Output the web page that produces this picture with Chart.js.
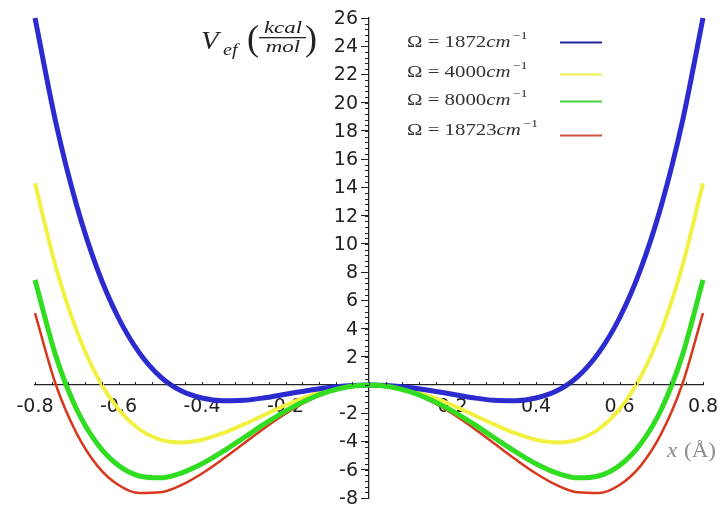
<!DOCTYPE html>
<html>
<head>
<meta charset="utf-8">
<script src="https://cdn.jsdelivr.net/npm/chart.js@4.4.0/dist/chart.umd.min.js"></script>
<style>
  html, body { margin: 0; padding: 0; background: #fff; }
  #wrap { width: 724px; height: 508px; }
</style>
</head>
<body>
<div id="wrap"><canvas id="myChart"></canvas></div>
<script>
// x positions (Å) and effective potential (kcal/mol)
const xs = [-0.8, -0.75, -0.7, -0.65, -0.6, -0.55, -0.5, -0.45, -0.4, -0.35, -0.3, -0.25, -0.2, -0.15, -0.1, -0.05, 0,
            0.05, 0.1, 0.15, 0.2, 0.25, 0.3, 0.35, 0.4, 0.45, 0.5, 0.55, 0.6, 0.65, 0.7, 0.75, 0.8];
const omegas = [1872, 4000, 8000, 18723];
const vBlue = [26.0, 18.58, 12.70, 8.16, 4.75, 2.28, 0.60, -0.41, -0.92, -1.11, -1.08, -0.90, -0.65, -0.40, -0.19, -0.05, 0,
               -0.05, -0.19, -0.40, -0.65, -0.90, -1.08, -1.11, -0.92, -0.41, 0.60, 2.28, 4.75, 8.16, 12.70, 18.58, 26.0];
const vYellow = [14.3, 8.36, 3.84, 0.54, -1.72, -3.13, -3.86, -4.06, -3.87, -3.41, -2.79, -2.10, -1.43, -0.84, -0.39, -0.10, 0,
                 -0.10, -0.39, -0.84, -1.43, -2.10, -2.79, -3.41, -3.87, -4.06, -3.86, -3.13, -1.72, 0.54, 3.84, 8.36, 14.3];
const vGreen = [7.45, 2.05, -1.73, -4.19, -5.70, -6.44, -6.57, -6.23, -5.57, -4.70, -3.73, -2.75, -1.85, -1.08, -0.49, -0.12, 0,
                -0.12, -0.49, -1.08, -1.85, -2.75, -3.73, -4.70, -5.57, -6.23, -6.57, -6.44, -5.70, -4.19, -1.73, 2.05, 7.45];
const vRed = [5.10, 0.02, -3.44, -5.74, -7.08, -7.65, -7.60, -7.09, -6.26, -5.24, -4.14, -3.04, -2.03, -1.18, -0.54, -0.14, 0,
              -0.14, -0.54, -1.18, -2.03, -3.04, -4.14, -5.24, -6.26, -7.09, -7.60, -7.65, -7.08, -5.74, -3.44, 0.02, 5.10];

const xTickLabels = [-0.8, -0.6, -0.4, -0.2, 0.2, 0.4, 0.6, 0.8];
const yTickLabels = [-8, -6, -4, -2, 2, 4, 6, 8, 10, 12, 14, 16, 18, 20, 22, 24, 26];

const pts = (ys) => xs.map((x, i) => ({ x: x, y: ys[i] }));

// text squeezed wider, like the original bitmap
function wideText(ctx, str, x, y, sx) {
  ctx.save();
  ctx.translate(x, y);
  ctx.scale(sx, 1);
  ctx.fillText(str, 0, 0);
  ctx.restore();
  return ctx.measureText(str).width * sx;
}

// minor ticks, y labels, axis titles, legend (Maple style)
const decorations = {
  id: "decorations",
  afterDraw(chart) {
    const ctx = chart.ctx;
    const sx = chart.scales.x, sy = chart.scales.y;
    const x0 = sx.getPixelForValue(0), y0 = sy.getPixelForValue(0);
    ctx.save();
    ctx.strokeStyle = "#222";
    ctx.lineWidth = 1;
    ctx.beginPath();
    for (let v = -0.8; v <= 0.8001; v += 0.04) {
      const px = Math.round(sx.getPixelForValue(v)) + 0.5;
      ctx.moveTo(px, y0);
      ctx.lineTo(px, y0 - 3);
    }
    for (let v = -8; v <= 26.001; v += 0.4) {
      const py = Math.round(sy.getPixelForValue(v)) + 0.5;
      ctx.moveTo(x0, py);
      ctx.lineTo(x0 - 4, py);
    }
    ctx.stroke();

    // y tick labels, left of the centred axis
    ctx.fillStyle = "#222";
    ctx.font = "19px 'DejaVu Sans'";
    ctx.textAlign = "right";
    ctx.textBaseline = "middle";
    yTickLabels.forEach((v) => ctx.fillText(String(v), x0 - 11, sy.getPixelForValue(v) + 1));

    // y title  V_ef (kcal/mol)
    ctx.textBaseline = "alphabetic";
    ctx.textAlign = "left";
    ctx.font = "italic 25px 'Liberation Serif'";
    wideText(ctx, "V", 201, 49, 1.15);
    ctx.font = "italic 16px 'Liberation Serif'";
    wideText(ctx, "ef", 223, 55, 1.25);
    ctx.font = "36px 'Liberation Serif'";
    wideText(ctx, "(", 247, 50, 1);
    wideText(ctx, ")", 305, 50, 1);
    ctx.font = "italic 17px 'Liberation Serif'";
    const kw = ctx.measureText("kcal").width * 1.35;
    wideText(ctx, "kcal", 283 - kw / 2, 33, 1.35);
    const mw = ctx.measureText("mol").width * 1.35;
    wideText(ctx, "mol", 283 - mw / 2, 52, 1.35);
    ctx.fillRect(259, 37, 47, 1.3);

    // x title  x (Å)
    ctx.fillStyle = "#8a8a8a";
    ctx.font = "italic 21px 'Liberation Serif'";
    wideText(ctx, "x", 667, 457, 1.1);
    ctx.font = "21px 'Liberation Serif'";
    wideText(ctx, "(Å)", 684, 457, 1.1);

    // legend
    const textY = [47, 77, 105, 135];
    const lineY = [42, 74, 101, 135];
    ctx.fillStyle = "#333";
    chart.data.datasets.forEach((ds) => {
      const idx = ds.omegaIndex;
      const k = 1.3;
      let tx = 407;
      ctx.font = "16px 'Liberation Serif'";
      tx += wideText(ctx, "\u03A9 = " + omegas[idx], tx, textY[idx], k);
      ctx.font = "italic 16px 'Liberation Serif'";
      tx += wideText(ctx, "cm", tx, textY[idx], k) + 2;
      ctx.font = "11px 'Liberation Serif'";
      wideText(ctx, "\u22121", tx, textY[idx] - 8, k);
      ctx.strokeStyle = ds.legendColor;
      ctx.lineWidth = 2;
      ctx.beginPath();
      ctx.moveTo(560, lineY[idx] + 0.5);
      ctx.lineTo(602, lineY[idx] + 0.5);
      ctx.stroke();
    });
    ctx.restore();
  }
};

const ctx = document.getElementById("myChart").getContext("2d");
const myChart = new Chart(ctx, {
  type: "scatter",
  data: {
    datasets: [
      { label: "\u03A9 = 1872cm\u207B\u00B9", omegaIndex: 0, data: pts(vBlue), borderColor: "#2b2bcf", legendColor: "#25259a", borderWidth: 5, order: 1 },
      { label: "\u03A9 = 4000cm\u207B\u00B9", omegaIndex: 1, data: pts(vYellow), borderColor: "#f2f040", legendColor: "#eeee55", borderWidth: 4, order: 2 },
      { label: "\u03A9 = 8000cm\u207B\u00B9", omegaIndex: 2, data: pts(vGreen), borderColor: "#30dd20", legendColor: "#44d044", borderWidth: 5, order: 0 },
      { label: "\u03A9 = 18723cm\u207B\u00B9", omegaIndex: 3, data: pts(vRed), borderColor: "#d8381e", legendColor: "#d05040", borderWidth: 2.5, order: 3 }
    ].map((d) => Object.assign(d, { showLine: true, pointRadius: 0, fill: false, cubicInterpolationMode: "monotone", clip: 6 }))
  },
  options: {
    responsive: true,
    maintainAspectRatio: false,
    animation: false,
    layout: { padding: { left: 35, right: 21, top: 18, bottom: 10 } },
    plugins: { legend: { display: false }, tooltip: { enabled: false } },
    scales: {
      x: {
        type: "linear",
        min: -0.8,
        max: 0.8,
        position: { y: 0 },
        afterBuildTicks: (axis) => { axis.ticks = xTickLabels.map((v) => ({ value: v })); },
        grid: { display: false },
        border: { display: true, color: "#222", width: 1.3 },
        ticks: {
          padding: 3,
          color: "#222",
          font: { family: "DejaVu Sans", size: 19 },
          callback: (v) => v.toFixed(1),
          maxRotation: 0,
          autoSkip: false
        }
      },
      y: {
        type: "linear",
        min: -8,
        max: 26,
        position: { x: 0 },
        afterBuildTicks: (axis) => { axis.ticks = yTickLabels.map((v) => ({ value: v })); },
        grid: { drawOnChartArea: false, drawTicks: true, tickLength: 7, color: "#222" },
        border: { display: true, color: "#222", width: 1.3 },
        ticks: { display: false }
      }
    }
  },
  plugins: [decorations]
});
</script>
</body>
</html>
